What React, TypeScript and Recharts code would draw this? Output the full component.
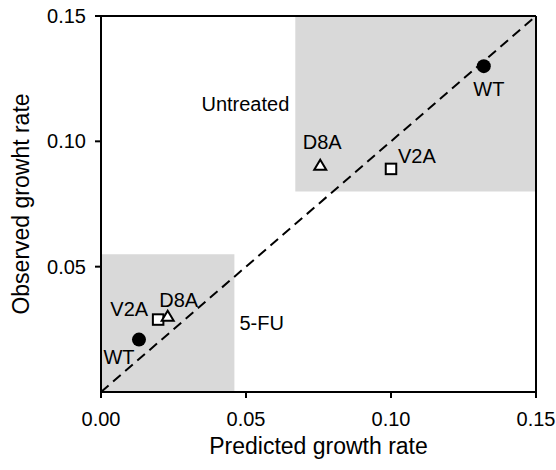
import {
  ReferenceArea,
  ReferenceLine,
  Scatter,
  ScatterChart,
  XAxis,
  YAxis,
} from "recharts";

// growth rates
const untreatedNames = ["WT", "V2A", "D8A"];
const untreatedPredicted = [0.132, 0.1, 0.0756];
const untreatedObserved = [0.13, 0.089, 0.0905];

const fuNames = ["WT", "V2A", "D8A"];
const fuPredicted = [0.0131, 0.0197, 0.023];
const fuObserved = [0.0209, 0.0289, 0.0302];

// shaded regions (x range, y range)
const untreatedBoxX = [0.067, 0.15];
const untreatedBoxY = [0.08, 0.15];
const fuBoxX = [0, 0.046];
const fuBoxY = [0, 0.055];

const xTicks = [0, 0.05, 0.1, 0.15];
const yTicks = [0.05, 0.1, 0.15];
const identity = [0, 0.15];

const FONT = "'Liberation Sans', Arial, sans-serif";
const GRAY = "#d9d9d9";
const LABEL_SIZE = 20;

const untreatedData = untreatedNames.map((name, i) => ({
  name,
  group: "untreated",
  x: untreatedPredicted[i],
  y: untreatedObserved[i],
}));
const fuData = fuNames.map((name, i) => ({
  name,
  group: "fu",
  x: fuPredicted[i],
  y: fuObserved[i],
}));

/* where each point's name sits relative to its marker */
const labelSpot: Record<string, { dx: number; dy: number; anchor: "start" | "middle" | "end" }> = {
  "untreated-WT": { dx: 5, dy: 23, anchor: "middle" },
  "untreated-D8A": { dx: 2, dy: -23, anchor: "middle" },
  "untreated-V2A": { dx: 7, dy: -13, anchor: "start" },
  "fu-WT": { dx: -20, dy: 17, anchor: "middle" },
  "fu-V2A": { dx: -10, dy: -11, anchor: "end" },
  "fu-D8A": { dx: 11, dy: -16, anchor: "middle" },
};

function Marker(props: any) {
  const { cx, cy, payload } = props;
  if (cx == null || cy == null) return null;
  const spot = labelSpot[`${payload.group}-${payload.name}`];
  let mark;
  if (payload.name === "WT") {
    mark = <circle cx={cx} cy={cy} r={7} fill="#000" />;
  } else if (payload.name === "V2A") {
    mark = <rect x={cx - 5.25} y={cy - 5.25} width={10.5} height={10.5} fill="#fff" stroke="#000" strokeWidth={2} />;
  } else {
    mark = (
      <polygon
        points={`${cx},${cy - 5.5} ${cx + 6},${cy + 4.5} ${cx - 6},${cy + 4.5}`}
        fill="#fff"
        stroke="#000"
        strokeWidth={2}
      />
    );
  }
  return (
    <g>
      {mark}
      <text
        x={cx + spot.dx}
        y={cy + spot.dy}
        textAnchor={spot.anchor}
        dominantBaseline="central"
        fontFamily={FONT}
        fontSize={LABEL_SIZE}
        fill="#000"
      >
        {payload.name}
      </text>
    </g>
  );
}

export default function App() {
  const axisStroke = { stroke: "#000", strokeWidth: 2 };
  const tickStyle = { fontSize: 20, fill: "#000", fontFamily: FONT };

  return (
    <div style={{ position: "absolute", left: 0, top: 0, background: "#fff" }}>
      <ScatterChart width={556} height={470} margin={{ top: 16, right: 20, bottom: 0, left: 0 }}>
        <ReferenceArea
          x1={fuBoxX[0]}
          x2={fuBoxX[1]}
          y1={fuBoxY[0]}
          y2={fuBoxY[1]}
          fill={GRAY}
          fillOpacity={1}
          stroke="none"
          label={{ value: "5-FU", position: "right", offset: 5, fontSize: LABEL_SIZE, fill: "#000", fontFamily: FONT }}
        />
        <ReferenceArea
          x1={untreatedBoxX[0]}
          x2={untreatedBoxX[1]}
          y1={untreatedBoxY[0]}
          y2={untreatedBoxY[1]}
          fill={GRAY}
          fillOpacity={1}
          stroke="none"
          label={{ value: "Untreated", position: "left", offset: 6, fontSize: LABEL_SIZE, fill: "#000", fontFamily: FONT }}
        />
        <XAxis
          type="number"
          dataKey="x"
          domain={[0, 0.15]}
          ticks={xTicks}
          interval={0}
          allowDataOverflow
          tickFormatter={(v) => Number(v).toFixed(2)}
          height={78}
          tickSize={6}
          tickMargin={14}
          axisLine={axisStroke}
          tickLine={axisStroke}
          tick={tickStyle}
          label={{
            value: "Predicted growth rate",
            position: "insideBottom",
            offset: 16,
            fontSize: 23,
            fill: "#000",
            fontFamily: FONT,
          }}
        />
        <YAxis
          type="number"
          dataKey="y"
          domain={[0, 0.15]}
          ticks={yTicks}
          interval={0}
          allowDataOverflow
          tickFormatter={(v) => Number(v).toFixed(2)}
          width={101}
          tickSize={6}
          tickMargin={9}
          axisLine={axisStroke}
          tickLine={axisStroke}
          tick={tickStyle}
          label={{
            value: "Observed growht rate",
            angle: -90,
            position: "insideLeft",
            offset: 21,
            fontSize: 23,
            fill: "#000",
            fontFamily: FONT,
            style: { textAnchor: "middle" },
          }}
        />
        <ReferenceLine y={0.15} stroke="#000" strokeWidth={2} />
        <ReferenceLine x={0.15} stroke="#000" strokeWidth={2} />
        <ReferenceLine
          segment={[
            { x: identity[0], y: identity[0] },
            { x: identity[1], y: identity[1] },
          ]}
          stroke="#000"
          strokeWidth={2}
          strokeDasharray="10 6"
        />
        <Scatter data={untreatedData} shape={Marker} isAnimationActive={false} />
        <Scatter data={fuData} shape={Marker} isAnimationActive={false} />
      </ScatterChart>
    </div>
  );
}
